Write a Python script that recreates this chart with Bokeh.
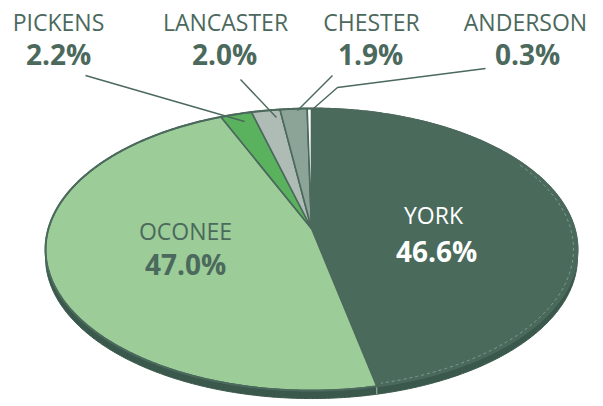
import numpy as np
from bokeh.plotting import figure
from bokeh.models import Range1d
from bokeh.embed import file_html
from bokeh.resources import INLINE
from bokeh.core.properties import value

# ---- data ----
counties = ["YORK", "OCONEE", "PICKENS", "LANCASTER", "CHESTER", "ANDERSON"]
shares = [46.6, 47.0, 2.2, 2.0, 1.9, 0.3]
colors = ["#4a6a5c", "#9ccc97", "#5ab25e", "#afbcb6", "#8ca397", "#ffffff"]

# ---- layout (pixels) ----
W, H = 603, 406
APEX_X, APEX_Y = 311, 228
A, B, K = 263, 137.9, 0.149   # perspective pie: half width, half depth, perspective
DEPTH = 8
EDGE = "#4b695c"
SIDE = "#3a584b"

# label anchors: (name_x, name_y, pct_x, pct_y)
label_pos = {
    "YORK": (433, 214, 436, 250),
    "OCONEE": (185, 230, 185, 263),
    "PICKENS": (58, 21, 58, 53),
    "LANCASTER": (225, 21, 224, 53),
    "CHESTER": (371, 21, 370, 53),
    "ANDERSON": (525, 21, 527, 53),
}
leaders = {
    "PICKENS": ([85, 244], [75, 121]),
    "LANCASTER": ([240, 276], [79, 117]),
    "CHESTER": ([332, 297], [75, 110]),
    "ANDERSON": ([485, 337, 313], [68, 87, 108]),
}


def proj(alpha_deg):
    a = np.radians(alpha_deg)
    s, c = np.sin(a), np.cos(a)
    w = 1 + K * c
    return APEX_X + A * s / w, APEX_Y - B * c / w


p = figure(width=W, height=H, x_range=Range1d(0, W), y_range=Range1d(H, 0),
           output_backend="svg", toolbar_location=None, min_border=0,
           background_fill_color="white", border_fill_color="white")
p.axis.visible = False
p.grid.visible = False
p.outline_line_color = None

# side (thickness)
full = np.linspace(0, 360, 721)
rx, ry = proj(full)
p.patch(list(rx), list(ry + DEPTH), fill_color=SIDE, line_color=SIDE, line_width=1)

# wedges
total = sum(shares)
cum = np.concatenate([[0], np.cumsum(shares)]) / total * 360.0
xs, ys = [], []
for i in range(len(shares)):
    a = np.linspace(cum[i], cum[i + 1], max(3, int((cum[i + 1] - cum[i]) * 2)))
    x, y = proj(a)
    xs.append([APEX_X] + list(x))
    ys.append([APEX_Y] + list(y))
p.patches(xs, ys, fill_color=colors, line_color=EDGE, line_width=1.6, line_join="round")

# rim outline
p.line(list(rx), list(ry), line_color=EDGE, line_width=2)

# side seam at York / Oconee boundary
sx, sy = proj(np.array([cum[1]]))
p.line([sx[0], sx[0]], [sy[0] + 1, sy[0] + DEPTH], line_color="#a7bbb1", line_width=1)

# highlight along York rim
ha = np.linspace(60, cum[1] - 1, 120)
hx, hy = proj(ha)
cx = APEX_X + (hx - APEX_X) * 0.985
cy = APEX_Y + (hy - APEX_Y) * 0.985
p.line(list(cx), list(cy), line_color="#7f9b8e", line_width=1, line_dash="3 3")

# leader lines
for name, (lx, ly) in leaders.items():
    p.line(lx, ly, line_color=EDGE, line_width=1.4)

# labels
names, nx, ny, ncol = [], [], [], []
pcts, px_, py_, pcol = [], [], [], []
for name, v in zip(counties, shares):
    a, b, c, d = label_pos[name]
    col = "white" if name == "YORK" else EDGE
    names.append(name); nx.append(a); ny.append(b); ncol.append(col)
    pcts.append(f"{v:.1f}%"); px_.append(c); py_.append(d); pcol.append(col)

p.text(x=nx, y=ny, text=names, text_color=ncol, text_font=value("Open Sans"),
       text_font_size="23px", text_align="center", text_baseline="alphabetic")
p.text(x=px_, y=py_, text=pcts, text_color=pcol, text_font=value("Open Sans"),
       text_font_size="28px", text_font_style="bold", text_align="center",
       text_baseline="alphabetic")

open("out.html", "w").write(file_html(p, INLINE))
